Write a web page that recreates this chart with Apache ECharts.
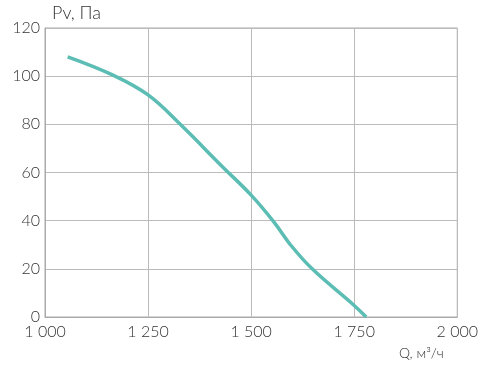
<!DOCTYPE html>
<html><head><meta charset="utf-8">
<script src="https://cdn.jsdelivr.net/npm/echarts@6/dist/echarts.min.js"></script>
<style>html,body{margin:0;padding:0;background:#fff}#c{width:481px;height:367px}</style>
</head><body><div id="c"></div>
<script>
var flowQ = [1055, 1165, 1250, 1328, 1431, 1500, 1555, 1594, 1648, 1750, 1779];
var pressurePv = [108, 100.4, 92.2, 80, 62.3, 50.6, 39.5, 30.3, 20, 4.8, 0];
var xTicks = [1000, 1250, 1500, 1750, 2000];
var yTicks = [0, 20, 40, 60, 80, 100, 120];
var yName = 'Pv, Па';
var xName = 'Q, м³/ч';

function fmt(v){ var s=String(v); return s.length>3 ? s.slice(0,s.length-3)+' '+s.slice(-3) : s; }
var font = 'Lato, "Open Sans", sans-serif';
var chart = echarts.init(document.getElementById('c'));
chart.setOption({
  animation:false,
  grid:{left:45,right:17,top:28,bottom:50,show:true,borderColor:'#aaa',borderWidth:1},
  xAxis:{type:'value',min:xTicks[0],max:xTicks[xTicks.length-1],interval:250,
    axisLine:{show:true,lineStyle:{color:'#aaa'}},axisTick:{show:false},
    splitLine:{show:true,lineStyle:{color:'#bbb',width:1}},
    axisLabel:{color:'#333',fontSize:16,fontWeight:300,fontFamily:font,margin:7,formatter:fmt}},
  yAxis:{type:'value',min:yTicks[0],max:yTicks[yTicks.length-1],interval:20,
    name:yName,nameLocation:'end',nameGap:6,
    nameTextStyle:{color:'#333',fontSize:18,fontWeight:300,fontFamily:font,align:'left',padding:[0,0,0,7]},
    axisLine:{show:true,lineStyle:{color:'#aaa'}},axisTick:{show:false},
    splitLine:{show:true,lineStyle:{color:'#bbb',width:1}},
    axisLabel:{color:'#333',fontSize:16,fontWeight:300,fontFamily:font,margin:5}},
  graphic:[{type:'text',left:399,top:346,style:{text:xName,fill:'#333',fontSize:14,fontWeight:300,fontFamily:font}}],
  series:[{type:'line',smooth:0.4,symbol:'none',
    data:flowQ.map(function(q,i){return [q,pressurePv[i]];}),
    lineStyle:{color:'#5bbdb3',width:3.5}}]
});
</script></body></html>
